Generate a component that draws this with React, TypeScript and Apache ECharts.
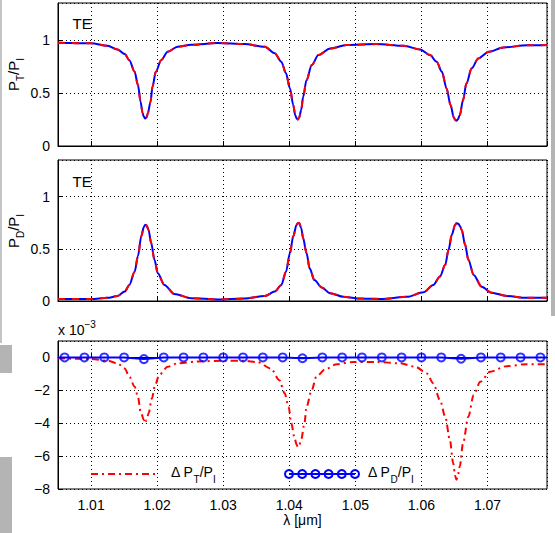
import React, { useEffect, useRef } from 'react';
import * as echarts from 'echarts';

// ---------- data ----------
// Top panel: P_T / P_I
const ptX = [1.005, 1.01, 1.0125, 1.014, 1.0151, 1.0158, 1.0166, 1.0171, 1.0175, 1.0178, 1.018, 1.0182, 1.0184, 1.0186, 1.019, 1.0193, 1.0198, 1.0206, 1.0216, 1.0231, 1.0252, 1.0292, 1.0332, 1.0363, 1.0378, 1.0388, 1.0395, 1.0401, 1.0406, 1.0409, 1.0411, 1.0413, 1.0415, 1.0418, 1.0421, 1.0426, 1.0434, 1.0444, 1.0462, 1.0487, 1.0532, 1.0573, 1.0598, 1.0613, 1.0623, 1.0631, 1.0638, 1.0644, 1.0649, 1.0651, 1.0653, 1.0655, 1.0658, 1.0663, 1.0668, 1.0676, 1.0686, 1.0702, 1.0724, 1.076, 1.079];
const ptY = [0.975, 0.969, 0.946, 0.912, 0.868, 0.81, 0.7, 0.575, 0.418, 0.31, 0.275, 0.26, 0.272, 0.31, 0.418, 0.56, 0.7, 0.81, 0.89, 0.937, 0.956, 0.972, 0.962, 0.937, 0.875, 0.795, 0.686, 0.544, 0.387, 0.29, 0.262, 0.25, 0.27, 0.34, 0.465, 0.62, 0.764, 0.858, 0.92, 0.953, 0.962, 0.946, 0.912, 0.858, 0.795, 0.7, 0.544, 0.387, 0.27, 0.247, 0.239, 0.25, 0.29, 0.434, 0.59, 0.733, 0.827, 0.89, 0.931, 0.95, 0.953];

// Middle panel: P_D / P_I
const pdX = [1.005, 1.01, 1.0125, 1.014, 1.0151, 1.0158, 1.0166, 1.0171, 1.0176, 1.018, 1.0182, 1.0184, 1.0187, 1.0191, 1.0196, 1.0201, 1.0211, 1.0226, 1.0252, 1.0292, 1.0332, 1.0363, 1.0378, 1.0388, 1.0395, 1.0401, 1.0406, 1.0411, 1.0413, 1.0415, 1.0418, 1.0421, 1.0426, 1.0431, 1.0438, 1.0449, 1.0462, 1.0482, 1.0502, 1.0543, 1.0578, 1.0603, 1.0618, 1.0628, 1.0636, 1.0641, 1.0646, 1.0651, 1.0653, 1.0656, 1.0658, 1.0661, 1.0666, 1.0671, 1.0679, 1.0691, 1.0706, 1.0729, 1.0759, 1.079];
const pdY = [0.02, 0.02, 0.03, 0.048, 0.09, 0.154, 0.28, 0.43, 0.62, 0.71, 0.73, 0.725, 0.68, 0.555, 0.394, 0.266, 0.154, 0.067, 0.026, 0.015, 0.025, 0.048, 0.09, 0.154, 0.28, 0.46, 0.62, 0.73, 0.745, 0.747, 0.7, 0.6, 0.46, 0.31, 0.2, 0.13, 0.074, 0.04, 0.025, 0.02, 0.04, 0.083, 0.154, 0.234, 0.346, 0.49, 0.635, 0.73, 0.745, 0.74, 0.72, 0.68, 0.54, 0.394, 0.25, 0.137, 0.08, 0.048, 0.03, 0.03];

// Bottom panel (x 10^-3): Delta P_T / P_I
const dtX = [1.005, 1.01, 1.0125, 1.014, 1.0151, 1.0158, 1.0166, 1.0171, 1.0175, 1.018, 1.0181, 1.0182, 1.0184, 1.0187, 1.0192, 1.0197, 1.0203, 1.0216, 1.0231, 1.0262, 1.0302, 1.0332, 1.0352, 1.0372, 1.0385, 1.0393, 1.0399, 1.0403, 1.0408, 1.0411, 1.0413, 1.0415, 1.0418, 1.0423, 1.0426, 1.0434, 1.0441, 1.0454, 1.0472, 1.0497, 1.0532, 1.0568, 1.0591, 1.0608, 1.0618, 1.0628, 1.0636, 1.0643, 1.0648, 1.0651, 1.0653, 1.0655, 1.0658, 1.0663, 1.0671, 1.0679, 1.0689, 1.0704, 1.0729, 1.0759, 1.079];
const dtY = [-0.05, -0.1, -0.2, -0.36, -0.67, -1.17, -1.78, -2.39, -3.3, -3.8, -3.95, -4.0, -3.8, -3.4, -2.5, -1.68, -1.07, -0.57, -0.36, -0.24, -0.2, -0.2, -0.28, -0.67, -1.38, -2.18, -3.0, -4.0, -4.9, -5.3, -5.45, -5.35, -5.0, -4.0, -3.0, -1.98, -1.17, -0.73, -0.41, -0.27, -0.27, -0.36, -0.57, -0.97, -1.58, -2.59, -3.6, -5.0, -6.42, -7.2, -7.44, -7.2, -6.63, -5.2, -3.6, -2.28, -1.48, -0.87, -0.53, -0.41, -0.41];

// Bottom panel: Delta P_D / P_I (marker points)
const ddX = [1.006, 1.009, 1.012, 1.015, 1.018, 1.021, 1.024, 1.027, 1.03, 1.033, 1.036, 1.039, 1.042, 1.045, 1.048, 1.051, 1.054, 1.057, 1.06, 1.063, 1.066, 1.069, 1.072, 1.075, 1.078];
const ddY = [0, 0, 0, 0, -0.1, 0, 0, 0, 0, 0, 0, 0, -0.05, 0, 0, 0, 0, 0, 0, 0, -0.08, 0, 0, 0, 0];
const ddLineX = [1.005, ...ddX, 1.079];
const ddLineY = [0, ...ddY, 0];

const X_MIN = 1.005;
const X_MAX = 1.079;

const FONT = "'Liberation Sans', Arial, Helvetica, sans-serif";

const pairs = (xs: number[], ys: number[]) => xs.map((x, i) => [x, ys[i]]);

function measure(text: string, size: number): number {
  const ctx = document.createElement('canvas').getContext('2d');
  if (!ctx) return text.length * size * 0.55;
  ctx.font = `${size}px ${FONT}`;
  return ctx.measureText(text).width;
}

type Seg = { t: string; k?: 'sub' | 'sup' };

function richLabel(segs: Seg[], x: number, y: number, rotation = 0, center = false, main = 14) {
  let cx = 0;
  const children: any[] = [];
  for (const s of segs) {
    const size = s.k ? 10 : main;
    const dy = s.k === 'sub' ? 7 : s.k === 'sup' ? -6 : 0;
    children.push({
      type: 'text',
      x: cx,
      y: dy,
      style: {
        text: s.t,
        font: `${size}px ${FONT}`,
        fill: '#000',
        align: 'left',
        textAlign: 'left',
        verticalAlign: 'middle',
        textVerticalAlign: 'middle',
      },
    });
    cx += measure(s.t, size);
  }
  if (center) children.forEach((c) => (c.x -= cx / 2));
  return { type: 'group', x, y, rotation, children };
}

const GRIDS = [
  { left: 58, top: 3, width: 489, height: 143 },
  { left: 58, top: 160, width: 489, height: 141 },
  { left: 58, top: 341, width: 489, height: 148 },
];

function xAxis(gridIndex: number, labels: boolean) {
  return {
    type: 'value',
    gridIndex,
    min: X_MIN,
    max: X_MAX,
    axisLine: { show: true, lineStyle: { color: '#000', width: 1 } },
    axisTick: { show: true, inside: true, length: 5, lineStyle: { color: '#000' } },
    axisLabel: {
      show: labels,
      color: '#000',
      fontSize: 14,
      fontFamily: FONT,
      margin: 9,
      showMinLabel: false,
      showMaxLabel: false,
      formatter: (v: number) => v.toFixed(2),
    },
    splitLine: { show: true, lineStyle: { color: '#000', width: 1, type: [1, 3] } },
  };
}

function yAxis(gridIndex: number, min: number, max: number, interval: number) {
  return {
    type: 'value',
    gridIndex,
    min,
    max,
    interval,
    axisLine: { show: true, lineStyle: { color: '#000', width: 1 } },
    axisTick: { show: true, inside: true, length: 5, lineStyle: { color: '#000' } },
    axisLabel: {
      color: '#000',
      fontSize: 14,
      fontFamily: FONT,
      margin: 8,
      showMaxLabel: false,
      formatter: (v: number) => String(Math.round(v * 100) / 100).replace('-', '\u2212'),
    },
    splitLine: { show: true, lineStyle: { color: '#000', width: 1, type: [1, 3] } },
  };
}

const BLUE = '#0000ff';
const RED = '#ff0000';

export default function App() {
  const ref = useRef<HTMLDivElement>(null);
  useEffect(() => {
    if (!ref.current) return;
    const chart = echarts.init(ref.current, undefined, { renderer: 'svg' });

    const legendCircles = [289, 302.2, 315.4, 328.6, 341.8, 355].map((cx) => ({
      type: 'circle',
      shape: { cx, cy: 474, r: 4 },
      style: { fill: 'none', stroke: BLUE, lineWidth: 2 },
      z: 100,
    }));

    const option: any = {
      animation: false,
      backgroundColor: '#fff',
      grid: GRIDS.map((g) => ({ ...g, show: true, borderColor: '#000', borderWidth: 1, containLabel: false })),
      xAxis: [xAxis(0, false), xAxis(1, false), xAxis(2, true)],
      yAxis: [yAxis(0, 0, 1.35, 0.5), yAxis(1, 0, 1.35, 0.5), yAxis(2, -8, 1, 2)],
      series: [
        {
          type: 'line', xAxisIndex: 0, yAxisIndex: 0, data: pairs(ptX, ptY),
          showSymbol: false, smooth: 0.3, smoothMonotone: 'x',
          lineStyle: { color: BLUE, width: 2 },
        },
        {
          type: 'line', xAxisIndex: 0, yAxisIndex: 0, data: pairs(ptX, ptY),
          showSymbol: false, smooth: 0.3, smoothMonotone: 'x',
          lineStyle: { color: RED, width: 2, type: [7, 7] },
        },
        {
          type: 'line', xAxisIndex: 1, yAxisIndex: 1, data: pairs(pdX, pdY),
          showSymbol: false, smooth: 0.3, smoothMonotone: 'x',
          lineStyle: { color: BLUE, width: 2 },
        },
        {
          type: 'line', xAxisIndex: 1, yAxisIndex: 1, data: pairs(pdX, pdY),
          showSymbol: false, smooth: 0.3, smoothMonotone: 'x',
          lineStyle: { color: RED, width: 2, type: [7, 7] },
        },
        {
          type: 'line', xAxisIndex: 2, yAxisIndex: 2, data: pairs(dtX, dtY),
          showSymbol: false, smooth: 0.3, smoothMonotone: 'x',
          lineStyle: { color: RED, width: 2, type: [7, 4, 2, 4] },
        },
        {
          type: 'line', xAxisIndex: 2, yAxisIndex: 2, data: pairs(ddLineX, ddLineY),
          showSymbol: false,
          lineStyle: { color: BLUE, width: 2 },
        },
        {
          type: 'scatter', xAxisIndex: 2, yAxisIndex: 2, data: pairs(ddX, ddY),
          symbol: 'circle', symbolSize: 8,
          itemStyle: { color: 'rgba(0,0,0,0)', borderColor: BLUE, borderWidth: 2 },
          z: 5,
        },
      ],
      graphic: [
        // page artifacts (grey strips at edges)
        { type: 'rect', shape: { x: 0, y: 0, width: 2, height: 343 }, style: { fill: '#c4c4c4' } },
        { type: 'rect', shape: { x: 0, y: 345, width: 12, height: 28 }, style: { fill: '#b4b4b4' } },
        { type: 'rect', shape: { x: 0, y: 457, width: 12, height: 76 }, style: { fill: '#b4b4b4' } },
        { type: 'rect', shape: { x: 551, y: 0, width: 4, height: 316 }, style: { fill: '#b4b4b4' } },
        // panel tags
        { type: 'text', x: 72.5, y: 23, style: { text: 'TE', font: `15px ${FONT}`, fill: '#000', verticalAlign: 'middle', textVerticalAlign: 'middle' } },
        { type: 'text', x: 72.5, y: 181, style: { text: 'TE', font: `15px ${FONT}`, fill: '#000', verticalAlign: 'middle', textVerticalAlign: 'middle' } },
        // y labels
        richLabel([{ t: 'P' }, { t: 'T', k: 'sub' }, { t: '/P' }, { t: 'I', k: 'sub' }], 13, 74.5, Math.PI / 2, true, 15),
        richLabel([{ t: 'P' }, { t: 'D', k: 'sub' }, { t: '/P' }, { t: 'I', k: 'sub' }], 13, 231, Math.PI / 2, true, 15),
        // exponent
        richLabel([{ t: 'x 10' }, { t: '\u22123', k: 'sup' }], 58, 330),
        // x label
        { type: 'text', x: 302.5, y: 520, style: { text: '\u03bb [\u03bcm]', font: `14px ${FONT}`, fill: '#000', align: 'center', textAlign: 'center', verticalAlign: 'middle', textVerticalAlign: 'middle' } },
        // legend
        { type: 'line', shape: { x1: 91, y1: 474, x2: 157, y2: 474 }, style: { stroke: RED, lineWidth: 2, lineDash: [7, 4, 2, 4] }, z: 100 },
        richLabel([{ t: '\u0394 P' }, { t: 'T', k: 'sub' }, { t: '/P' }, { t: 'I', k: 'sub' }], 171, 472),
        { type: 'line', shape: { x1: 289, y1: 474, x2: 355, y2: 474 }, style: { stroke: BLUE, lineWidth: 2 }, z: 100 },
        ...legendCircles,
        richLabel([{ t: '\u0394 P' }, { t: 'D', k: 'sub' }, { t: '/P' }, { t: 'I', k: 'sub' }], 368, 472),
      ],
    };
    chart.setOption(option);
    return () => chart.dispose();
  }, []);
  return <div ref={ref} style={{ position: 'fixed', left: 0, top: 0, width: 555, height: 533 }} />;
}
